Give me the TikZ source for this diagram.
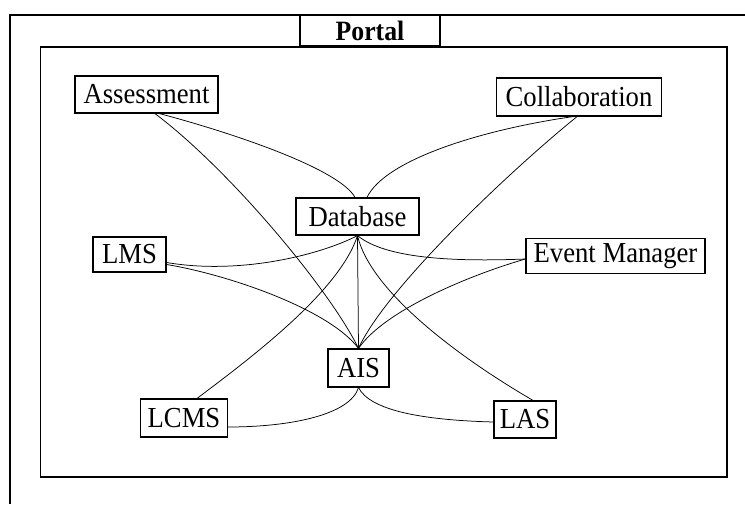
\documentclass[tikz,border=0pt]{standalone}
\usepackage{fontspec}
\setmainfont[FakeStretch=0.92]{Liberation Serif}
\begin{document}
\begin{tikzpicture}[x=1pt,y=-1pt,
  box/.style={draw, line width=1.2pt, inner sep=0pt, minimum height=37pt,
    font=\fontsize{29}{34}\selectfont},
  link/.style={line width=0.75pt},
  frame/.style={line width=1.3pt}]
\useasboundingbox (0,0) rectangle (745,504);

% outer portal frame and its title tab
\draw[frame] (745,15) -- (10,15) -- (10,504);
\node[draw, line width=1.2pt, inner sep=0pt, minimum width=140pt, minimum height=31pt,
  font=\fontsize{28}{32}\selectfont\bfseries] (portal) at (370,30.5) {Portal};

% inner frame
\draw[frame] (40.5,47) rectangle (727,477);

% components
\node[box, minimum width=143pt] (ass) at (146.5,94.5) {Assessment};
\node[box, minimum width=165pt, minimum height=38pt] (col) at (579,97) {Collaboration};
\node[box, minimum width=123pt] (db) at (357.5,216.5) {Database};
\node[box, minimum width=73pt, minimum height=35pt] (lms) at (129.5,254.5) {LMS};
\node[box, minimum width=179pt, minimum height=35pt] (em) at (615.5,256) {Event Manager};
\node[box, minimum width=61pt, minimum height=38pt] (ais) at (358.5,368) {AIS};
\node[box, minimum width=87pt, minimum height=38pt] (lcms) at (184,418) {LCMS};
\node[box, minimum width=62pt] (las) at (525,419.5) {LAS};

% links into the database
\draw[link] ([xshift=13pt]ass.south) .. controls (240,135) and (340,170) .. ([xshift=-2.5pt]db.north);
\draw[link] ([xshift=-6pt]col.south) .. controls (480,130) and (385,160) .. ([xshift=9.5pt]db.north);
\draw[link] ([yshift=-8pt]lms.east) .. controls (240,275) and (320,255) .. (db.south);
\draw[link] ([yshift=-3pt]em.west) .. controls (450,262) and (385,258) .. (db.south);
\draw[link] (db.south) .. controls (340,290) and (255,355) .. ([xshift=13pt]lcms.north);
\draw[link] (db.south) .. controls (370,290) and (455,355) .. ([xshift=8pt]las.north);
\draw[link] (db.south) -- (ais.north);

% links into the AIS
\draw[link] ([xshift=8.5pt]ass.south) .. controls (230,170) and (330,290) .. (ais.north);
\draw[link] ([xshift=-2pt]col.south) .. controls (505,175) and (385,290) .. (ais.north);
\draw[link] ([yshift=-10pt]lms.east) .. controls (230,275) and (330,310) .. (ais.north);
\draw[link] ([yshift=-3pt]em.west) .. controls (470,275) and (385,310) .. (ais.north);
\draw[link] (ais.south) .. controls (350,415) and (290,427) .. ([yshift=-9pt]lcms.east);
\draw[link] (ais.south) .. controls (370,410) and (420,420) .. ([yshift=-2.5pt]las.west);
\end{tikzpicture}
\end{document}
